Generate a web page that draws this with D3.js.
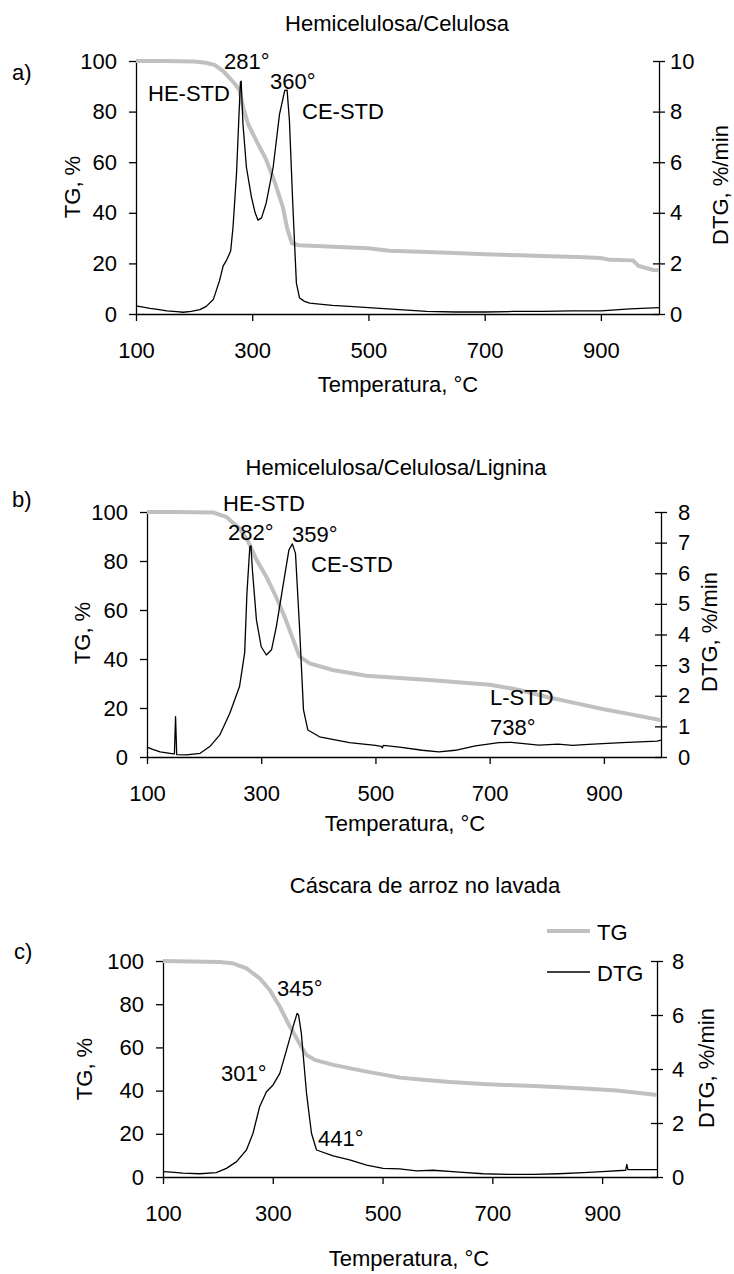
<!DOCTYPE html>
<html>
<head>
<meta charset="utf-8">
<script src="https://cdn.jsdelivr.net/npm/d3@7"></script>
<style>
  body { margin: 0; background: #fff; }
  svg text { font-family: "Liberation Sans", Arial, sans-serif; fill: #000; }
</style>
</head>
<body>
<svg id="chart" width="734" height="1274"></svg>
<script>
// ---- data ----
const titles = ["Hemicelulosa/Celulosa", "Hemicelulosa/Celulosa/Lignina", "Cáscara de arroz no lavada"];
const panelLetters = ["a)", "b)", "c)"];
const xTicks = [100, 300, 500, 700, 900];
const tgTicks = [0, 20, 40, 60, 80, 100];
const dtgTicksA = [0, 2, 4, 6, 8, 10];
const dtgTicksB = [0, 1, 2, 3, 4, 5, 6, 7, 8];
const dtgTicksC = [0, 2, 4, 6, 8];

// panel a
const tempA_tg = [100, 150, 200, 220, 235, 250, 260, 270, 278, 284, 293, 307, 324, 339, 353, 360, 368, 380, 400, 450, 500, 536, 600, 660, 700, 760, 800, 860, 900, 915, 955, 965, 990, 1000];
const tgA = [100, 100, 99.8, 99.3, 98.5, 96, 93.5, 91, 88.5, 82, 75, 68.5, 61, 52, 42, 34, 28, 27.2, 27, 26.5, 26, 25, 24.5, 24, 23.6, 23.2, 22.9, 22.5, 22.1, 21.4, 21.2, 19, 17.4, 17.3];
const tempA_dtg = [100, 110, 124, 140, 153, 170, 181, 195, 210, 221, 233, 244, 250, 256, 263, 267, 273, 276.6, 279.7, 281, 284, 290, 298.6, 305, 310, 316, 324, 336, 347, 356, 360, 364, 370, 376, 381.5, 390, 399, 420, 438, 467, 500, 553, 600, 650, 700, 750, 800, 850, 900, 950, 1000];
const dtgA = [0.32, 0.28, 0.22, 0.17, 0.12, 0.09, 0.07, 0.1, 0.17, 0.3, 0.57, 1.34, 1.9, 2.13, 2.5, 3.45, 5.56, 7.53, 9.17, 9.2, 7.53, 5.8, 4.63, 4.0, 3.71, 3.8, 4.38, 5.8, 7.9, 8.84, 8.85, 7.66, 4.24, 1.22, 0.63, 0.5, 0.43, 0.38, 0.34, 0.3, 0.25, 0.17, 0.1, 0.08, 0.08, 0.1, 0.1, 0.12, 0.12, 0.2, 0.25];

// panel b
const tempB_tg = [100, 150, 216, 239, 262, 277, 292, 309, 326, 341, 356, 367, 385, 425, 484, 542, 600, 700, 750, 800, 850, 900, 950, 1000];
const tgB = [100, 100, 99.8, 98, 93.3, 88, 80.4, 73.6, 65.4, 57.2, 47.8, 41, 38.2, 35.5, 33.2, 32.2, 31.3, 29.5, 27.5, 24.5, 22, 19.5, 17.3, 15];
const tempB_dtg = [100, 110, 123, 146, 148, 150, 152, 169, 193, 210, 227.5, 245, 262, 271, 275, 280, 282, 284.6, 291.6, 300, 309, 318, 326.5, 338, 348.5, 354.5, 360, 367, 374, 381.7, 402, 454.5, 500, 510, 512, 514, 542, 582, 611, 640, 675, 716, 738, 786, 820, 845, 873, 932, 993, 1000];
const dtgB = [0.32, 0.25, 0.17, 0.1, 0.1, 1.32, 0.08, 0.07, 0.12, 0.34, 0.72, 1.43, 2.3, 3.4, 5.35, 6.85, 6.9, 6.1, 4.48, 3.6, 3.33, 3.5, 4.26, 5.57, 6.76, 6.96, 6.65, 4.26, 1.54, 0.88, 0.66, 0.47, 0.38, 0.35, 0.3, 0.38, 0.32, 0.22, 0.17, 0.22, 0.36, 0.47, 0.48, 0.39, 0.42, 0.38, 0.41, 0.47, 0.52, 0.55];

// panel c
const tempC_tg = [100, 150, 203, 227.6, 252, 276, 294.5, 312.8, 328, 340, 352, 361.5, 376.6, 410, 471, 531.6, 574, 622.7, 683, 787, 866, 926.6, 993, 1000];
const tgC = [100, 99.8, 99.5, 98.9, 96.6, 92, 86.6, 78.8, 71.2, 65.7, 60.3, 56.5, 54.2, 51.9, 48.8, 46, 45, 44, 43, 42, 41, 40, 38.2, 38];
const tempC_dtg = [100, 115, 136.5, 167, 197, 215.6, 234, 252, 264, 276, 288.5, 300.5, 312.8, 325, 337, 344.3, 347, 352, 361.5, 370.5, 379.7, 410, 440, 471, 501, 531, 562, 592, 640, 683, 730, 774.6, 820, 866, 900, 943, 945, 947, 993, 1000];
const dtgC = [0.2, 0.18, 0.14, 0.12, 0.16, 0.32, 0.57, 1.0, 1.62, 2.6, 3.16, 3.41, 3.84, 4.7, 5.57, 6.06, 6.0, 5.33, 3.1, 1.62, 1.0, 0.78, 0.63, 0.44, 0.32, 0.3, 0.23, 0.25, 0.18, 0.12, 0.1, 0.1, 0.12, 0.16, 0.2, 0.25, 0.47, 0.27, 0.27, 0.27];

// ---- layout ----
const FONT_SIZE = 22;
const TG_COLOR = "#c0c0c0";

const panels = [
  {
    title: titles[0], letter: panelLetters[0],
    left: 136, right: 659, top: 61, bottom: 314,
    dtgMax: 10, dtgTicks: dtgTicksA, rightPad: 5,
    tg: d3.zip(tempA_tg, tgA), dtg: d3.zip(tempA_dtg, dtgA),
    titleX: 397, titleY: 31, letterX: 12, letterY: 80,
    xTitleX: 398, xTitleY: 392, tgLabelX: 80, tgLabelY: 187, dtgLabelX: 728, dtgLabelY: 185,
    notes: [["281°", 224, 69], ["360°", 270, 89], ["HE-STD", 148, 101], ["CE-STD", 302, 119]]
  },
  {
    title: titles[1], letter: panelLetters[1],
    left: 147, right: 661, top: 512, bottom: 757,
    dtgMax: 8, dtgTicks: dtgTicksB, rightPad: 11,
    tg: d3.zip(tempB_tg, tgB), dtg: d3.zip(tempB_dtg, dtgB),
    titleX: 396, titleY: 475, letterX: 12, letterY: 507,
    xTitleX: 405, xTitleY: 831, tgLabelX: 90, tgLabelY: 633, dtgLabelX: 717, dtgLabelY: 632,
    notes: [["HE-STD", 223, 511], ["282°", 228, 540], ["359°", 292, 542], ["CE-STD", 311, 572], ["L-STD", 490, 705], ["738°", 490, 735]]
  },
  {
    title: titles[2], letter: panelLetters[2],
    left: 163, right: 657, top: 961, bottom: 1177,
    dtgMax: 8, dtgTicks: dtgTicksC, rightPad: 9,
    tg: d3.zip(tempC_tg, tgC), dtg: d3.zip(tempC_dtg, dtgC),
    titleX: 425, titleY: 893, letterX: 14, letterY: 959,
    xTitleX: 409, xTitleY: 1266, tgLabelX: 92, tgLabelY: 1069, dtgLabelX: 714, dtgLabelY: 1068,
    notes: [["345°", 277, 996], ["301°", 221, 1081], ["441°", 318, 1146]],
    legend: true
  }
];

const svg = d3.select("#chart");

function styleAxis(g) {
  g.attr("font-size", FONT_SIZE).attr("font-family", null);
  g.selectAll("path, line").attr("stroke", "#000").attr("stroke-width", 1.3);
  g.selectAll("text").attr("fill", "#000");
}

panels.forEach(function(p) {
  const x = d3.scaleLinear().domain([100, 1000]).range([p.left, p.right]);
  const yTG = d3.scaleLinear().domain([0, 100]).range([p.bottom, p.top]);
  const yDTG = d3.scaleLinear().domain([0, p.dtgMax]).range([p.bottom, p.top]);

  // x axis
  svg.append("g")
    .attr("transform", "translate(0," + p.bottom + ")")
    .call(d3.axisBottom(x).tickValues(xTicks).tickSize(7).tickSizeOuter(0).tickPadding(21))
    .call(styleAxis);

  // left TG axis
  svg.append("g")
    .attr("transform", "translate(" + p.left + ",0)")
    .call(d3.axisLeft(yTG).tickValues(tgTicks).tickSize(7).tickSizeOuter(0).tickPadding(12))
    .call(styleAxis);

  // right DTG axis, ticks cross the line
  const rAxis = svg.append("g")
    .attr("transform", "translate(" + p.right + ",0)")
    .call(d3.axisRight(yDTG).tickValues(p.dtgTicks).tickSize(6).tickSizeOuter(0).tickPadding(p.rightPad))
    .call(styleAxis);
  rAxis.selectAll(".tick line").attr("x1", -6);

  const line = function(yScale) {
    return d3.line().x(function(d) { return x(d[0]); }).y(function(d) { return yScale(d[1]); });
  };

  // TG curve (grey, thick)
  svg.append("path")
    .datum(p.tg)
    .attr("fill", "none")
    .attr("stroke", TG_COLOR)
    .attr("stroke-width", 4)
    .attr("d", line(yTG));

  // DTG curve (black, thin)
  svg.append("path")
    .datum(p.dtg)
    .attr("fill", "none")
    .attr("stroke", "#000")
    .attr("stroke-width", 1.3)
    .attr("stroke-linejoin", "round")
    .attr("d", line(yDTG));

  // titles and labels
  svg.append("text").attr("x", p.titleX).attr("y", p.titleY)
    .attr("text-anchor", "middle").attr("font-size", FONT_SIZE).text(p.title);
  svg.append("text").attr("x", p.letterX).attr("y", p.letterY)
    .attr("font-size", FONT_SIZE).text(p.letter);
  svg.append("text").attr("x", p.xTitleX).attr("y", p.xTitleY)
    .attr("text-anchor", "middle").attr("font-size", FONT_SIZE).text("Temperatura, °C");
  svg.append("text")
    .attr("transform", "translate(" + p.tgLabelX + "," + p.tgLabelY + ") rotate(-90)")
    .attr("text-anchor", "middle").attr("font-size", FONT_SIZE).text("TG, %");
  svg.append("text")
    .attr("transform", "translate(" + p.dtgLabelX + "," + p.dtgLabelY + ") rotate(-90)")
    .attr("text-anchor", "middle").attr("font-size", FONT_SIZE).text("DTG, %/min");

  // peak annotations
  p.notes.forEach(function(n) {
    svg.append("text").attr("x", n[1]).attr("y", n[2])
      .attr("font-size", FONT_SIZE).text(n[0]);
  });

  // legend (only on the last panel)
  if (p.legend) {
    const legend = svg.append("g").attr("transform", "translate(547,931)");
    legend.append("line").attr("x1", 0).attr("x2", 43).attr("y1", 0).attr("y2", 0)
      .attr("stroke", TG_COLOR).attr("stroke-width", 4);
    legend.append("text").attr("x", 50).attr("y", 9).attr("font-size", FONT_SIZE).text("TG");
    legend.append("line").attr("x1", 0).attr("x2", 43).attr("y1", 41).attr("y2", 41)
      .attr("stroke", "#000").attr("stroke-width", 1.3);
    legend.append("text").attr("x", 50).attr("y", 50).attr("font-size", FONT_SIZE).text("DTG");
  }
});
</script>
</body>
</html>
